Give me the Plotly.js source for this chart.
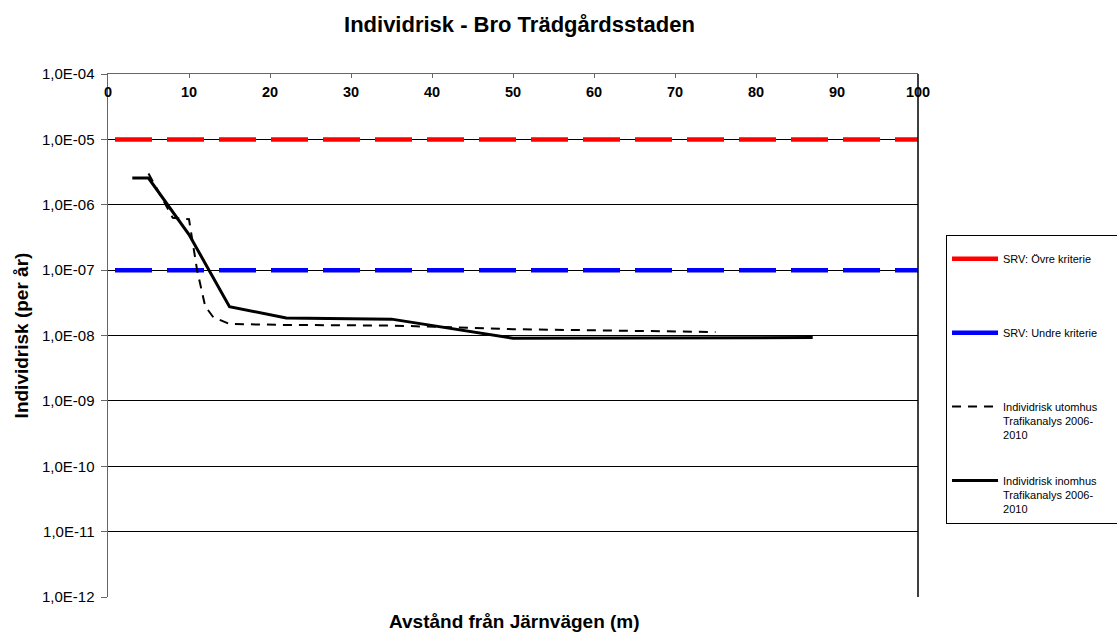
<!DOCTYPE html>
<html>
<head>
<meta charset="utf-8">
<script src="https://cdn.plot.ly/plotly-3.0.1.min.js"></script>
<style>html,body{margin:0;padding:0;background:#fff;}#chart{width:1117px;height:635px;}</style>
</head>
<body>
<div id="chart"></div>
<script>
// ---- data ----
const chartTitle = "Individrisk - Bro Trädgårdsstaden";
const xTitle = "Avstånd från Järnvägen (m)";
const yTitle = "Individrisk (per år)";

const criteriaX = [0, 100];
const upperCriteria = [1e-5, 1e-5];
const lowerCriteria = [1e-7, 1e-7];

const outdoorX = [5, 8, 10, 11, 12, 13, 15, 22, 35, 45, 50, 60, 75];
const outdoorRisk = [3.0e-6, 6.3e-7, 6.0e-7, 1.0e-7, 2.8e-8, 1.9e-8, 1.5e-8, 1.45e-8, 1.42e-8, 1.3e-8, 1.25e-8, 1.2e-8, 1.13e-8];

const indoorX = [3, 5, 10, 15, 22, 35, 50, 60, 70, 80, 87];
const indoorRisk = [2.56e-6, 2.56e-6, 3.5e-7, 2.76e-8, 1.85e-8, 1.78e-8, 9.1e-9, 9.1e-9, 9.2e-9, 9.3e-9, 9.3e-9];

const seriesNames = [
  "SRV: Övre kriterie",
  "SRV: Undre kriterie",
  "Individrisk utomhus<br>Trafikanalys 2006-<br>2010",
  "Individrisk inomhus<br>Trafikanalys 2006-<br>2010"
];

const yTickVals = [1e-12, 1e-11, 1e-10, 1e-9, 1e-8, 1e-7, 1e-6, 1e-5, 1e-4];
const yTickText = ["1,0E-12", "1,0E-11", "1,0E-10", "1,0E-09", "1,0E-08", "1,0E-07", "1,0E-06", "1,0E-05", "1,0E-04"];
const xTickVals = [0, 10, 20, 30, 40, 50, 60, 70, 80, 90, 100];

// ---- chart ----
const FONT = "Liberation Sans, Arial, sans-serif";
const pad = "<br>\u00A0<br>\u00A0";
const critDash = "0px,7px,37px,8px";

const traces = [
  // criteria lines (plot)
  {x: criteriaX, y: upperCriteria, name: seriesNames[0], showlegend: false, mode: "lines",
   line: {color: "#ff0000", width: 4.5, dash: critDash}},
  {x: criteriaX, y: lowerCriteria, name: seriesNames[1], showlegend: false, mode: "lines",
   line: {color: "#0000ff", width: 4.5, dash: critDash}},
  // legend entries for the criteria (solid symbol as in the original legend)
  {x: [null], y: [null], name: seriesNames[0] + pad, legendgroup: "a", mode: "lines",
   line: {color: "#ff0000", width: 4.5}},
  {x: [null], y: [null], name: seriesNames[1] + "\u00A0\u00A0\u00A0\u00A0\u00A0" + pad, legendgroup: "b", mode: "lines",
   line: {color: "#0000ff", width: 4.5}},
  {x: outdoorX, y: outdoorRisk, name: seriesNames[2], legendgroup: "c", mode: "lines",
   line: {color: "#000000", width: 2, dash: "9px,7px"}},
  {x: indoorX, y: indoorRisk, name: seriesNames[3], legendgroup: "d", mode: "lines",
   line: {color: "#000000", width: 3}}
];

const layout = {
  width: 1117, height: 635,
  margin: {l: 108, r: 199, t: 74, b: 38, autoexpand: false},
  paper_bgcolor: "#fff", plot_bgcolor: "#fff",
  font: {family: FONT, color: "#000"},
  title: {text: chartTitle, font: {family: FONT, size: 22, weight: "bold", color: "#000"},
          xref: "paper", x: 0.508, xanchor: "center", yref: "container", y: 0.961, yanchor: "middle"},
  showlegend: true,
  legend: {x: 1.0346, xanchor: "left", y: 0.6922, yanchor: "top",
           bordercolor: "#000", borderwidth: 1, bgcolor: "#fff",
           font: {family: FONT, size: 11, color: "#000"},
           title: {text: "\u00A0", font: {size: 7}},
           traceorder: "grouped", tracegroupgap: 28, valign: "top", itemwidth: 46},
  xaxis: {type: "linear", range: [0, 100], side: "top", tickvals: xTickVals,
          ticks: "inside", ticklen: 4, tickcolor: "#666",
          ticklabelposition: "inside", ticklabeloverflow: "allow", ticklabelstandoff: 9,
          tickfont: {family: FONT, size: 14.5, weight: "bold", color: "#000"},
          showline: true, linecolor: "#666", linewidth: 1.5, showgrid: false, zeroline: false,
          fixedrange: true},
  yaxis: {type: "log", range: [-12, -4], tickvals: yTickVals, ticktext: yTickText,
          ticks: "outside", ticklen: 6, tickcolor: "#666", ticklabelstandoff: 3,
          tickfont: {family: FONT, size: 15, color: "#000"},
          showline: true, linecolor: "#666", linewidth: 1.5,
          showgrid: true, gridcolor: "#000", gridwidth: 1, zeroline: false,
          title: {text: yTitle, font: {family: FONT, size: 19, weight: "bold", color: "#000"}, standoff: 8},
          automargin: false, fixedrange: true},
  shapes: [
    {type: "line", xref: "paper", yref: "paper", x0: 1, x1: 1, y0: 0, y1: 1,
     line: {color: "#000", width: 1.5}}
  ],
  annotations: [
    {text: xTitle, xref: "paper", yref: "paper", x: 0.502, y: -0.046, xanchor: "center", yanchor: "middle",
     showarrow: false, font: {family: FONT, size: 19, weight: "bold", color: "#000"}}
  ]
};

Plotly.newPlot("chart", traces, layout, {displayModeBar: false, staticPlot: true});
</script>
</body>
</html>
